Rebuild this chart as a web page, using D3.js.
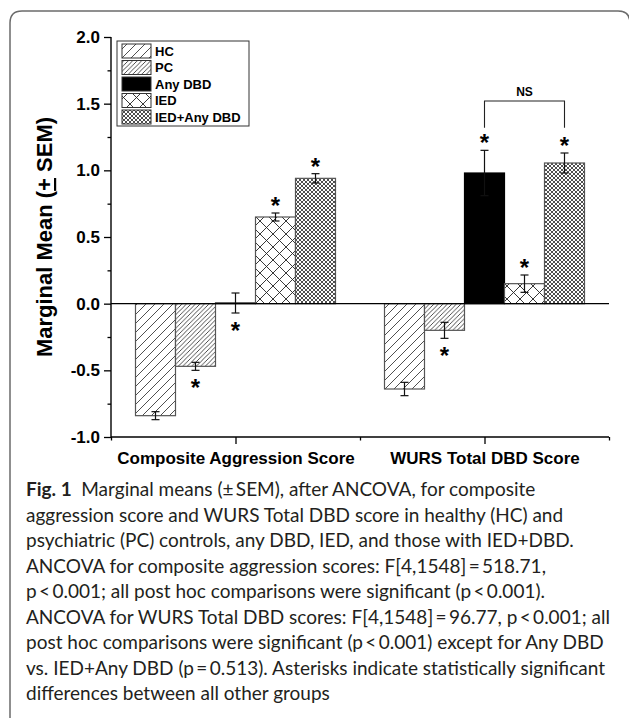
<!DOCTYPE html>
<html>
<head>
<meta charset="utf-8">
<script src="https://cdn.jsdelivr.net/npm/d3@7"></script>
<style>
  html, body { margin: 0; padding: 0; background: #fff; }
  svg { display: block; }
</style>
</head>
<body>
<div id="chart"></div>
<script>
// ---------------- data ----------------
const categories = ["Composite Aggression Score", "WURS Total DBD Score"];
const groups = ["HC", "PC", "Any DBD", "IED", "IED+Any DBD"];
const compositeMeans = [-0.84, -0.47, 0.005, 0.65, 0.94];
const compositeSEM   = [0.03, 0.03, 0.075, 0.03, 0.035];
const wursMeans      = [-0.64, -0.20, 0.98, 0.15, 1.055];
const wursSEM        = [0.05, 0.06, 0.17, 0.065, 0.075];
const compositeStars = ["", "below", "below", "above", "above"];
const wursStars      = ["", "below", "above", "above", "above"];
const yTicks = [-1.0, -0.5, 0.0, 0.5, 1.0, 1.5, 2.0];
const yMinorTicks = [-0.75, -0.25, 0.25, 0.75, 1.25, 1.75];
const nsLabel = "NS";
const nsPair = ["Any DBD", "IED+Any DBD"];
const nsBracket = [1.52, 1.32]; // top, leg end (y units)
const captionBold = "Fig. 1";
const captionLines = [
  "Marginal means (\u00B1\u2009SEM), after ANCOVA, for composite",
  "aggression score and WURS Total DBD score in healthy (HC) and",
  "psychiatric (PC) controls, any DBD, IED, and those with IED+DBD.",
  "ANCOVA for composite aggression scores: F[4,1548]\u2009=\u2009518.71,",
  "p\u2009<\u20090.001; all post hoc comparisons were significant (p\u2009<\u20090.001).",
  "ANCOVA for WURS Total DBD scores: F[4,1548]\u2009=\u200996.77, p\u2009<\u20090.001; all",
  "post hoc comparisons were significant (p\u2009<\u20090.001) except for Any DBD",
  "vs. IED+Any DBD (p\u2009=\u20090.513). Asterisks indicate statistically significant",
  "differences between all other groups"
];

const series = [
  { cat: categories[0], means: compositeMeans, sem: compositeSEM, stars: compositeStars },
  { cat: categories[1], means: wursMeans, sem: wursSEM, stars: wursStars }
];

// ---------------- layout ----------------
const W = 629, H = 718;
const svg = d3.select("#chart").append("svg").attr("width", W).attr("height", H);
svg.append("rect").attr("width", W).attr("height", H).attr("fill", "#fff");

const sans = "'Liberation Sans', Arial, Helvetica, sans-serif";

// frame (rounded, open at bottom)
svg.append("path")
  .attr("d", "M10,730 L10,23 Q10,11 22,11 L618,11 Q630,11 630,23 L630,730")
  .attr("fill", "none").attr("stroke", "#6b6b6b").attr("stroke-width", 1.5);

const x = d3.scaleLinear().domain([0, 4]).range([111, 609]);
const y = d3.scaleLinear().domain([-1, 2]).range([437, 37]);
const catPos = d3.scaleOrdinal().domain(categories).range([1, 3]);
const inner = d3.scaleBand().domain(groups).range([-100, 100]).padding(0);

// patterns
const defs = svg.append("defs");
function hatch(id, period, cross, sw) {
  const p = defs.append("pattern").attr("id", id)
    .attr("patternUnits", "userSpaceOnUse").attr("width", period).attr("height", period);
  p.append("rect").attr("width", period).attr("height", period).attr("fill", "#fff");
  const s = period;
  let d = `M0,${s} L${s},0 M${-s/2},${s/2} L${s/2},${-s/2} M${s/2},${s*1.5} L${s*1.5},${s/2}`;
  if (cross) d += ` M0,0 L${s},${s} M${-s/2},${s/2} L${s/2},${s*1.5} M${s/2},${-s/2} L${s*1.5},${s/2}`;
  p.append("path").attr("d", d).attr("stroke", "#222").attr("stroke-width", sw).attr("fill", "none");
}
hatch("pHC", 9, false, 0.8);
hatch("pPC", 4.5, false, 0.8);
hatch("pIED", 13, true, 0.9);
hatch("pIEDDBD", 4, true, 0.8);
const fills = { "HC": "url(#pHC)", "PC": "url(#pPC)", "Any DBD": "#000", "IED": "url(#pIED)", "IED+Any DBD": "url(#pIEDDBD)" };

// bars
const barG = svg.append("g");
series.forEach(s => {
  const cx = x(catPos(s.cat));
  groups.forEach((g, i) => {
    const v = s.means[i];
    barG.append("rect")
      .attr("x", cx + inner(g))
      .attr("y", Math.min(y(v), y(0)))
      .attr("width", inner.bandwidth())
      .attr("height", Math.abs(y(v) - y(0)))
      .attr("fill", fills[g])
      .attr("stroke", g === "Any DBD" ? "#000" : "#555")
      .attr("stroke-width", 1.2);
  });
});

// error bars & asterisks
const errG = svg.append("g").attr("stroke", "#111").attr("stroke-width", 1.2);
const starG = svg.append("g");
series.forEach(s => {
  const cx = x(catPos(s.cat));
  groups.forEach((g, i) => {
    const v = s.means[i], e = s.sem[i];
    const bx = cx + inner(g) + inner.bandwidth() / 2;
    errG.append("line").attr("x1", bx).attr("x2", bx).attr("y1", y(v + e)).attr("y2", y(v - e));
    [v + e, v - e].forEach(t => errG.append("line")
      .attr("x1", bx - 4).attr("x2", bx + 4).attr("y1", y(t)).attr("y2", y(t)));
    const st = s.stars[i];
    if (st) {
      const cy = st === "above" ? y(v + e) - 12 : y(v - e) + 13;
      starG.append("text").attr("x", bx).attr("y", cy + 13)
        .attr("text-anchor", "middle").attr("font-family", sans)
        .attr("font-weight", "bold").attr("font-size", 24).attr("fill", "#000").text("*");
    }
  });
});

// zero line
svg.append("line").attr("x1", x(0)).attr("x2", x(4)).attr("y1", y(0)).attr("y2", y(0))
  .attr("stroke", "#000").attr("stroke-width", 1.3);

// axes
const yAxis = svg.append("g").attr("transform", `translate(${x(0)},0)`)
  .call(d3.axisLeft(y).tickValues(yTicks).tickSize(7).tickPadding(4).tickFormat(d => d.toFixed(1)));
const yMinor = svg.append("g").attr("transform", `translate(${x(0)},0)`)
  .call(d3.axisLeft(y).tickValues(yMinorTicks).tickSize(3.5).tickFormat(""));
yMinor.select(".domain").remove();

const xAxis = svg.append("g").attr("transform", `translate(0,${y(-1)})`)
  .call(d3.axisBottom(x).tickValues([1, 3]).tickSize(7).tickPadding(8)
    .tickFormat(d => categories[d === 1 ? 0 : 1]));
const xMinor = svg.append("g").attr("transform", `translate(0,${y(-1)})`)
  .call(d3.axisBottom(x).tickValues([0, 2, 4]).tickSize(3.5).tickFormat(""));
xMinor.select(".domain").remove();

[yAxis, yMinor, xAxis, xMinor].forEach(a => {
  a.selectAll("path.domain").attr("stroke", "#000").attr("stroke-width", 1.4);
  a.selectAll(".tick line").attr("stroke", "#000").attr("stroke-width", 1.3);
});
yAxis.selectAll(".tick text").attr("font-family", sans).attr("font-weight", "bold")
  .attr("font-size", 17).attr("fill", "#000");
xAxis.selectAll(".tick text").attr("font-family", sans).attr("font-weight", "bold")
  .attr("font-size", 17).attr("fill", "#000");
yAxis.select(".domain").attr("d", `M0,${y(2)}V${y(-1)}`);
xAxis.select(".domain").attr("d", `M${x(0)},0H${x(4)}`);

// y label
const yl = svg.append("text")
  .attr("transform", `translate(52,${(y(2) + y(-1)) / 2}) rotate(-90)`)
  .attr("text-anchor", "middle").attr("font-family", sans).attr("font-weight", "bold")
  .attr("font-size", 22).attr("fill", "#000");
yl.append("tspan").text("Marginal Mean (");
yl.append("tspan").attr("text-decoration", "underline").text("+");
yl.append("tspan").text(" SEM)");

// NS bracket
const cx2 = x(catPos(categories[1]));
const nx1 = cx2 + inner(nsPair[0]) + inner.bandwidth() / 2;
const nx2 = cx2 + inner(nsPair[1]) + inner.bandwidth() / 2;
svg.append("path")
  .attr("d", `M${nx1},${y(nsBracket[1])} V${y(nsBracket[0])} H${nx2} V${y(nsBracket[1])}`)
  .attr("fill", "none").attr("stroke", "#222").attr("stroke-width", 1.1);
svg.append("text").attr("x", (nx1 + nx2) / 2).attr("y", y(nsBracket[0]) - 5)
  .attr("text-anchor", "middle").attr("font-family", sans).attr("font-weight", "bold")
  .attr("font-size", 12).attr("fill", "#000").text(nsLabel);

// legend
const lg = svg.append("g");
lg.append("rect").attr("x", 117).attr("y", 41).attr("width", 132).attr("height", 85)
  .attr("fill", "#fff").attr("stroke", "#333").attr("stroke-width", 1);
groups.forEach((g, i) => {
  const cy = 51 + i * 16.5;
  lg.append("rect").attr("x", 122).attr("y", cy - 7).attr("width", 29).attr("height", 14)
    .attr("fill", fills[g]).attr("stroke", "#333").attr("stroke-width", 1);
  lg.append("text").attr("x", 155).attr("y", cy + 4.5)
    .attr("font-family", sans).attr("font-weight", "bold").attr("font-size", 13)
    .attr("fill", "#000").text(g);
});

// caption
const capFont = "Lato, 'Open Sans', sans-serif";
const cap = svg.append("g").attr("font-family", capFont).attr("font-size", 19).attr("fill", "#231f20");
captionLines.forEach((line, i) => {
  const t = cap.append("text").attr("x", 26).attr("y", 496 + i * 25.5);
  if (i === 0) {
    t.append("tspan").attr("font-weight", "bold").text(captionBold);
    t.append("tspan").text("\u2002" + line);
  } else {
    t.text(line);
  }
});
</script>
</body>
</html>
